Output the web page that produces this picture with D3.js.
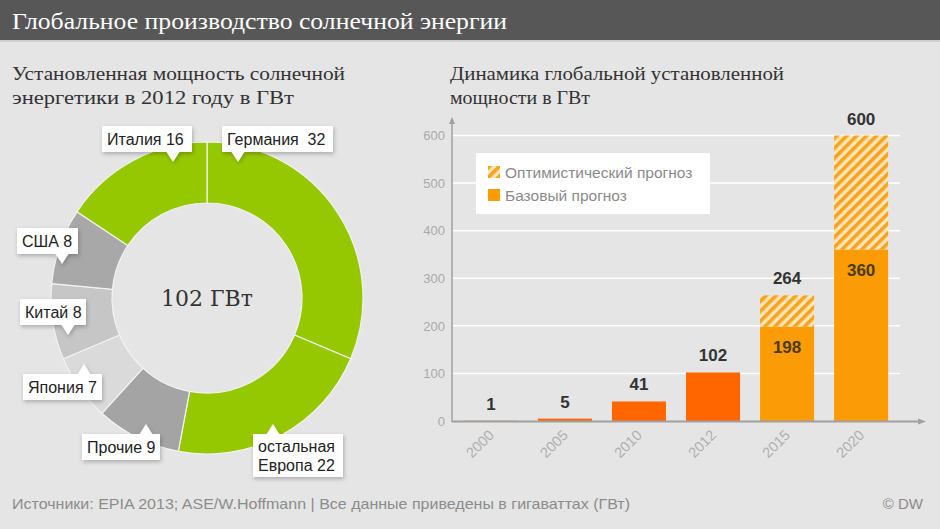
<!DOCTYPE html>
<html>
<head>
<meta charset="utf-8">
<script src="https://cdn.jsdelivr.net/npm/d3@7"></script>
<style>
  body { margin: 0; background: #e5e5e5; }
  svg { display: block; }
</style>
</head>
<body>
<svg id="chart" width="940" height="529"></svg>
<script>
// donut data (2012, GW)
var pieLabels = ["Германия", "остальная Европа", "Прочие", "Япония", "Китай", "США", "Италия"];
var pieValues = [32, 22, 9, 7, 8, 8, 16];
var pieColors = ["#96c800", "#96c800", "#a4a4a4", "#dadada", "#c6c6c6", "#a8a8a8", "#96c800"];
// bar data
var years = ["2000", "2005", "2010", "2012", "2015", "2020"];
var baseValues = [1, 5, 41, 102, 198, 360];
var optimisticValues = [null, null, null, null, 264, 600];
var yTicks = [0, 100, 200, 300, 400, 500, 600];

var svg = d3.select("#chart");

//drop shadow for the label boxes
var defs = svg.append("defs");
var shadow = defs.append("filter").attr("id", "shadow").attr("x", "-20%").attr("y", "-20%").attr("width", "140%").attr("height", "160%");
shadow.append("feDropShadow").attr("dx", 1).attr("dy", 2).attr("stdDeviation", 2).attr("flood-color", "#000").attr("flood-opacity", 0.25);
var hatch = defs.append("pattern").attr("id", "hatch").attr("patternUnits", "userSpaceOnUse")
    .attr("width", 7).attr("height", 7).attr("patternTransform", "rotate(45)");
hatch.append("rect").attr("width", 7).attr("height", 7).attr("fill", "#fde6bd");
hatch.append("rect").attr("width", 3.6).attr("height", 7).attr("fill", "#f9a21a");

//Header
svg.append("rect").attr("width", 940).attr("height", 529).attr("fill", "#e5e5e5");
svg.append("rect").attr("width", 940).attr("height", 40).attr("fill", "#575757");
svg.append("rect").attr("y", 40).attr("width", 940).attr("height", 2).attr("fill", "#cfcfcf");
svg.append("text").attr("x", 12).attr("y", 29).text("Глобальное производство солнечной энергии")
    .attr("font-family", "Liberation Serif, serif").attr("font-size", 23).attr("fill", "#fff")
    .attr("textLength", 495).attr("lengthAdjust", "spacingAndGlyphs");

function subtitle(x, lines, widths) {
    lines.forEach(function(t, i) {
        svg.append("text").attr("x", x).attr("y", 80 + i * 24).text(t)
            .attr("font-family", "Liberation Serif, serif").attr("font-size", 19).attr("fill", "#333")
            .attr("textLength", widths[i]).attr("lengthAdjust", "spacingAndGlyphs");
    });
}
subtitle(12, ["Установленная мощность солнечной", "энергетики в 2012 году в ГВт"], [333, 282]);
subtitle(450, ["Динамика глобальной установленной", "мощности в ГВт"], [334, 140]);

//Donut
var cx = 207, cy = 298;
var pie = d3.pie().sort(null).value(function(d) { return d; });
var arc = d3.arc().innerRadius(95).outerRadius(156);
var donut = svg.append("g").attr("transform", "translate(" + cx + "," + cy + ")");
donut.selectAll("path").data(pie(pieValues)).enter().append("path")
    .attr("d", arc)
    .attr("fill", function(d, i) { return pieColors[i]; })
    .attr("stroke", "#f2f2f2").attr("stroke-width", 1.2);
donut.append("text").attr("y", 8).attr("text-anchor", "middle").text("102 ГВт")
    .attr("font-family", "Georgia, DejaVu Serif, serif").attr("font-size", 22).attr("fill", "#333");

//label boxes: box left/top, width, height, pointer x, pointer direction (1 = down)
var labelBoxes = [
    { x: 222, y: 126, w: 111, h: 26, px: 238, dir: 1 },
    { x: 253, y: 434, w: 90, h: 43, px: 273, dir: -1 },
    { x: 82, y: 434, w: 78, h: 26, px: 146, dir: -1 },
    { x: 23, y: 374, w: 79, h: 26, px: 84, dir: -1 },
    { x: 20, y: 299, w: 66, h: 26, px: 68, dir: 1 },
    { x: 17, y: 228, w: 61, h: 26, px: 62, dir: 1 },
    { x: 102, y: 126, w: 90, h: 26, px: 173, dir: 1 }
];
pieLabels.forEach(function(name, i) {
    var b = labelBoxes[i];
    var g = svg.append("g").attr("filter", "url(#shadow)");
    var ty = b.dir > 0 ? b.y + b.h : b.y;
    g.append("rect").attr("x", b.x).attr("y", b.y).attr("width", b.w).attr("height", b.h).attr("fill", "#fff");
    g.append("path").attr("fill", "#fff")
        .attr("d", "M" + (b.px - 7) + "," + (ty - b.dir) + "L" + b.px + "," + (ty + b.dir * 10) + "L" + (b.px + 7) + "," + (ty - b.dir) + "Z");
    var txt = svg.append("text").attr("font-family", "Liberation Sans, Arial, sans-serif").attr("font-size", 16).attr("fill", "#222");
    var pad = b.x + 5;
    if (name === "остальная Европа") {
        txt.append("tspan").attr("x", pad).attr("y", b.y + 18).text("остальная");
        txt.append("tspan").attr("x", pad).attr("y", b.y + 37).text("Европа " + pieValues[i]);
    } else {
        txt.attr("x", pad).attr("y", b.y + 18.5).text(name + (name === "Германия" ? "  " : " ") + pieValues[i]);
        txt.attr("xml:space", "preserve");
    }
});

//Bars
var x = d3.scaleBand().domain(years).range([452, 900]).paddingInner(0.27).paddingOuter(0.16);
var y = d3.scaleLinear().domain([0, 600]).range([421, 135.5]);

var grid = svg.append("g");
grid.selectAll("line").data(yTicks.slice(1)).enter().append("line")
    .attr("x1", 452).attr("x2", 900)
    .attr("y1", function(d) { return y(d); }).attr("y2", function(d) { return y(d); })
    .attr("stroke", "#fff").attr("stroke-width", 1.5);

var yAxis = svg.append("g").attr("transform", "translate(445,0)")
    .call(d3.axisLeft(y).tickValues(yTicks).tickSize(0).tickPadding(0));
yAxis.select(".domain").remove();
yAxis.selectAll("text").attr("font-family", "Liberation Sans, Arial, sans-serif").attr("font-size", 13).attr("fill", "#aaa");

//legend
var legend = svg.append("g");
legend.append("rect").attr("x", 476).attr("y", 153).attr("width", 234).attr("height", 61).attr("fill", "#fff");
legend.append("rect").attr("x", 488).attr("y", 166).attr("width", 12).attr("height", 12).attr("fill", "url(#hatch)");
legend.append("rect").attr("x", 488).attr("y", 189).attr("width", 12).attr("height", 12).attr("fill", "#fb9b05");
legend.append("text").attr("x", 505).attr("y", 178).text("Оптимистический прогноз");
legend.append("text").attr("x", 505).attr("y", 201).text("Базовый прогноз");
legend.selectAll("text").attr("font-family", "Liberation Sans, Arial, sans-serif").attr("font-size", 15.5).attr("fill", "#8a8a8a");

var bars = svg.append("g");
bars.selectAll("rect.opt").data(years.filter(function(d, i) { return optimisticValues[i] !== null; })).enter()
    .append("rect").attr("class", "opt")
    .attr("x", function(d) { return x(d); })
    .attr("width", x.bandwidth())
    .attr("y", function(d) { return y(optimisticValues[years.indexOf(d)]); })
    .attr("height", function(d) { var i = years.indexOf(d); return y(baseValues[i]) - y(optimisticValues[i]); })
    .attr("fill", "url(#hatch)");
bars.selectAll("rect.base").data(years).enter().append("rect").attr("class", "base")
    .attr("x", function(d) { return x(d); })
    .attr("width", x.bandwidth())
    .attr("y", function(d, i) { return y(baseValues[i]); })
    .attr("height", function(d, i) { return Math.max(1, y(0) - y(baseValues[i])); })
    .attr("fill", function(d, i) {
        if (optimisticValues[i] !== null) return "#fb9b05";
        return i === 0 ? "#f7a27c" : "#ff6600";
    });

//axes lines with arrows
svg.append("line").attr("x1", 452).attr("x2", 452).attr("y1", 422).attr("y2", 122).attr("stroke", "#a0a0a0").attr("stroke-width", 1.5);
svg.append("path").attr("d", "M449,124L452,117L455,124Z").attr("fill", "#a0a0a0");
svg.append("line").attr("x1", 452).attr("x2", 920).attr("y1", 421.5).attr("y2", 421.5).attr("stroke", "#a0a0a0").attr("stroke-width", 2);
svg.append("path").attr("d", "M918,418.5L926,421.5L918,424.5Z").attr("fill", "#a0a0a0");

//value labels
var topVals = years.map(function(d, i) { return optimisticValues[i] !== null ? optimisticValues[i] : baseValues[i]; });
svg.append("g").selectAll("text").data(years).enter().append("text")
    .attr("x", function(d) { return x(d) + x.bandwidth() / 2; })
    .attr("y", function(d, i) { return y(topVals[i]) - 11; })
    .attr("text-anchor", "middle")
    .text(function(d, i) { return topVals[i]; })
    .attr("font-family", "Liberation Sans, Arial, sans-serif").attr("font-weight", "bold").attr("font-size", 17).attr("fill", "#333");
svg.append("g").selectAll("text").data(years.filter(function(d, i) { return optimisticValues[i] !== null; })).enter().append("text")
    .attr("x", function(d) { return x(d) + x.bandwidth() / 2; })
    .attr("y", function(d) { return y(baseValues[years.indexOf(d)]) + 26; })
    .attr("text-anchor", "middle")
    .text(function(d) { return baseValues[years.indexOf(d)]; })
    .attr("font-family", "Liberation Sans, Arial, sans-serif").attr("font-weight", "bold").attr("font-size", 17).attr("fill", "#4a3a10");

//x labels rotated
svg.append("g").selectAll("text").data(years).enter().append("text")
    .attr("transform", function(d) { return "translate(" + (x(d) + x.bandwidth() / 2 + 4) + ",436) rotate(-45)"; })
    .attr("text-anchor", "end")
    .text(function(d) { return d; })
    .attr("font-family", "Liberation Sans, Arial, sans-serif").attr("font-size", 14.5).attr("fill", "#b0b0b0");

//footer
svg.append("text").attr("x", 12).attr("y", 509)
    .text("Источники: EPIA 2013; ASE/W.Hoffmann | Все данные приведены в гигаваттах (ГВт)")
    .attr("font-family", "Liberation Sans Narrow, Liberation Sans, Arial, sans-serif").attr("font-size", 15).attr("fill", "#8c8c8c")
    .attr("textLength", 618).attr("lengthAdjust", "spacingAndGlyphs");
svg.append("text").attr("x", 923).attr("y", 509).attr("text-anchor", "end").text("© DW")
    .attr("font-family", "Liberation Sans Narrow, Liberation Sans, Arial, sans-serif").attr("font-size", 15).attr("fill", "#8c8c8c");
</script>
</body>
</html>
